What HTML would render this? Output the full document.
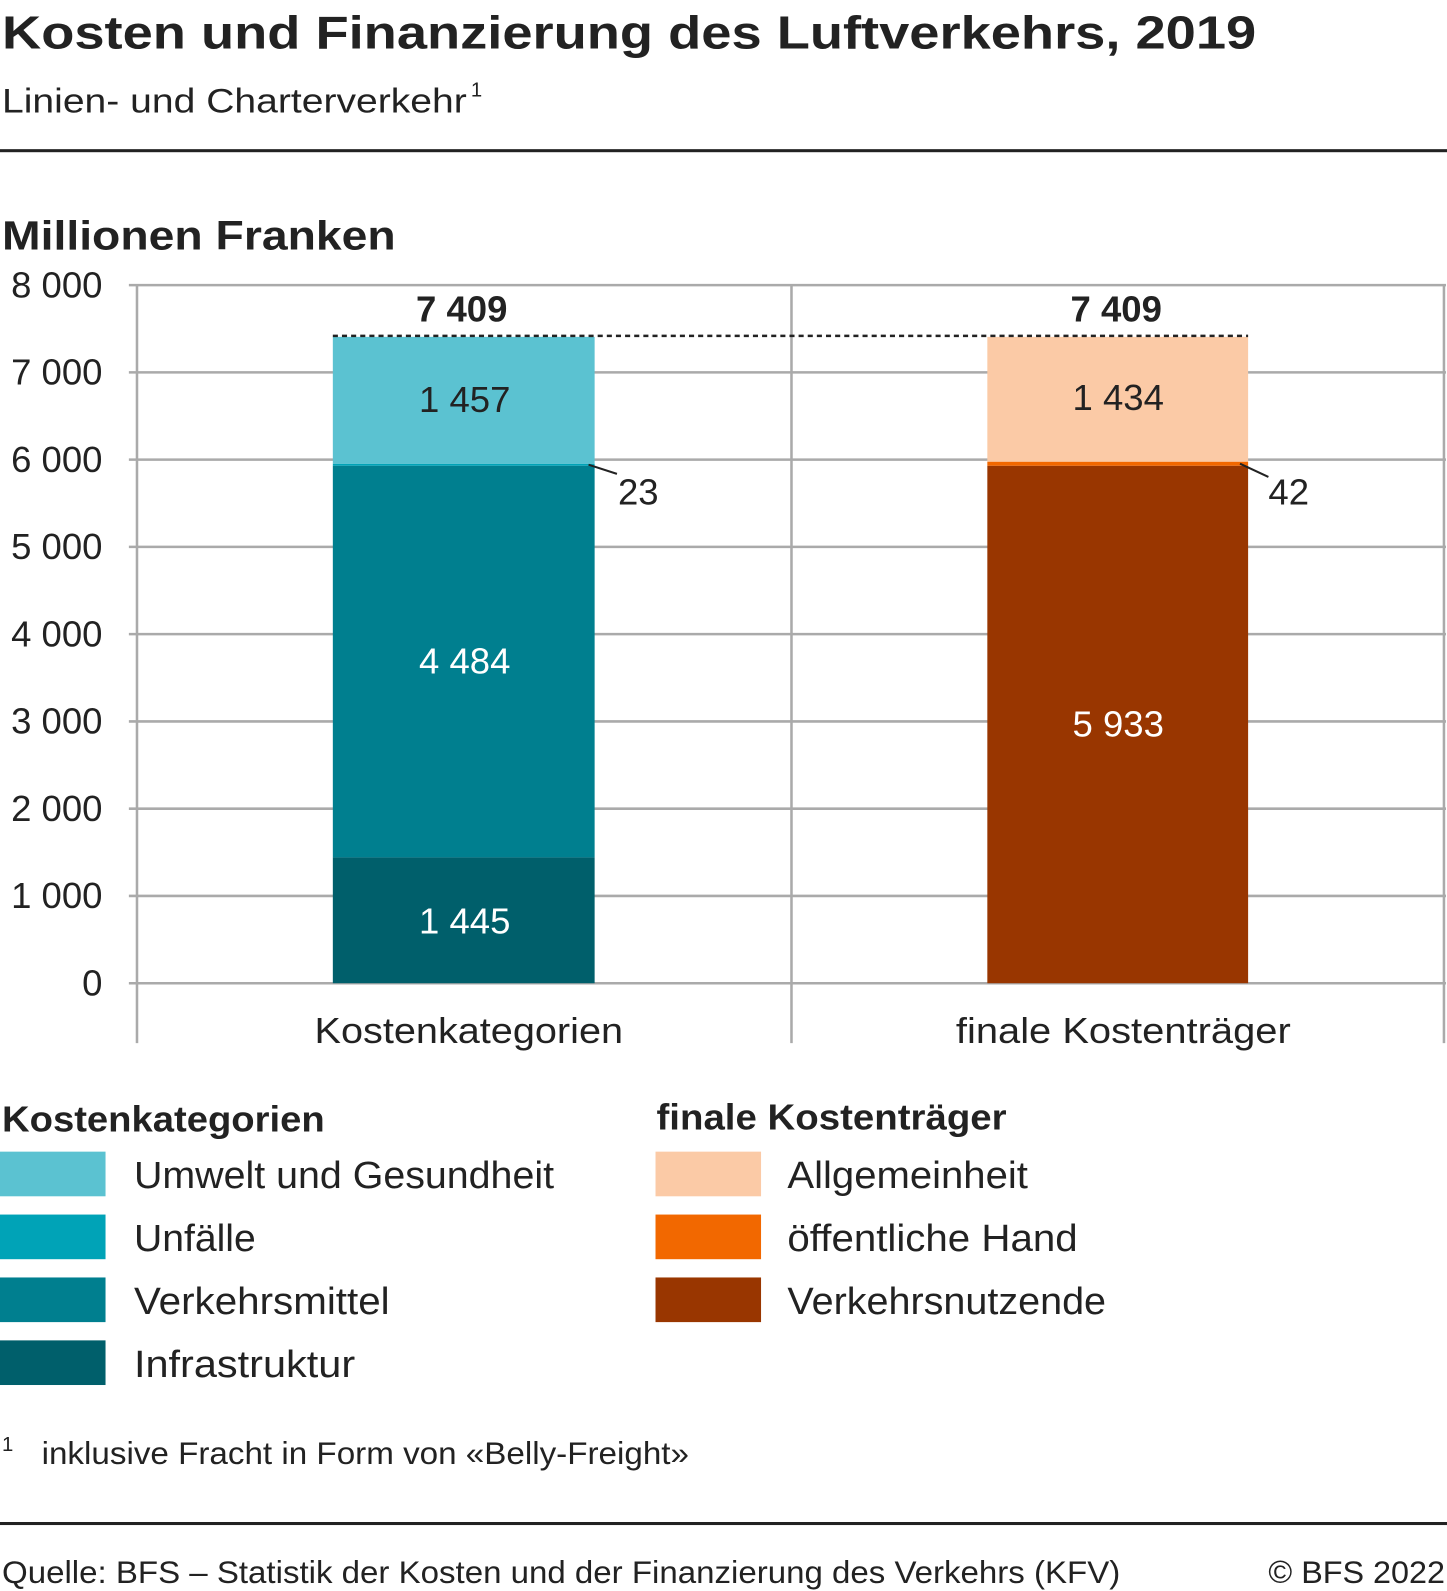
<!DOCTYPE html>
<html><head><meta charset="utf-8"><style>html,body{margin:0;padding:0;background:#fff}svg{display:block}text{font-family:"Liberation Sans",sans-serif;fill:#222}</style></head><body>
<svg width="1447" height="1591" viewBox="0 0 1426 1568" preserveAspectRatio="none" xmlns="http://www.w3.org/2000/svg">
<text x="2" y="48" font-size="46" font-weight="bold" textLength="1236" lengthAdjust="spacingAndGlyphs">Kosten und Finanzierung des Luftverkehrs, 2019</text>
<text x="2" y="111" font-size="34" textLength="458" lengthAdjust="spacingAndGlyphs">Linien- und Charterverkehr</text><text x="464" y="95" font-size="20">1</text>
<rect x="0" y="147" width="1426" height="3" fill="#222"/>
<text x="2" y="246" font-size="40" font-weight="bold" textLength="388" lengthAdjust="spacingAndGlyphs">Millionen Franken</text>
<g stroke="#aaa" stroke-width="2.5">
<line x1="127" y1="281" x2="1425" y2="281"/><line x1="127" y1="367" x2="1425" y2="367"/><line x1="127" y1="453" x2="1425" y2="453"/><line x1="127" y1="539" x2="1425" y2="539"/><line x1="127" y1="625" x2="1425" y2="625"/><line x1="127" y1="711" x2="1425" y2="711"/><line x1="127" y1="797" x2="1425" y2="797"/><line x1="127" y1="883" x2="1425" y2="883"/><line x1="127" y1="969" x2="1425" y2="969"/>
<line x1="135" y1="281" x2="135" y2="1028"/><line x1="780" y1="281" x2="780" y2="1028"/><line x1="1423" y1="281" x2="1423" y2="1028"/>
</g>
<g font-size="36" text-anchor="end">
<text x="101" y="293">8 000</text><text x="101" y="379">7 000</text><text x="101" y="465">6 000</text><text x="101" y="551">5 000</text><text x="101" y="637">4 000</text><text x="101" y="723">3 000</text><text x="101" y="809">2 000</text><text x="101" y="895">1 000</text><text x="101" y="981">0</text>
</g>
<rect x="328" y="845" width="258" height="124" fill="#005f6b"/>
<rect x="328" y="459" width="258" height="386" fill="#007f8f"/>
<rect x="328" y="457" width="258" height="2" fill="#00a3b7"/>
<rect x="328" y="332" width="258" height="125" fill="#5bc2d1"/>
<rect x="973" y="459" width="257" height="510" fill="#993600"/>
<rect x="973" y="455" width="257" height="4" fill="#f26800"/>
<rect x="973" y="332" width="257" height="123" fill="#fbcaa6"/>
<line x1="328" y1="331" x2="1230" y2="331" stroke="#222" stroke-width="2.5" stroke-dasharray="5,4"/>
<line x1="580" y1="458" x2="608" y2="467" stroke="#222" stroke-width="2"/>
<line x1="1222" y1="457" x2="1250" y2="470" stroke="#222" stroke-width="2"/>
<g font-size="36" text-anchor="middle">
<text x="455" y="317" font-weight="bold">7 409</text><text x="1100" y="317" font-weight="bold">7 409</text>
<text x="458" y="406">1 457</text><text x="458" y="664" style="fill:#fff">4 484</text><text x="458" y="920" style="fill:#fff">1 445</text>
<text x="1102" y="404">1 434</text><text x="1102" y="726" style="fill:#fff">5 933</text>
<text x="629" y="497">23</text><text x="1270" y="497">42</text>
</g>
<g font-size="36">
<text x="310" y="1028" textLength="304" lengthAdjust="spacingAndGlyphs">Kostenkategorien</text>
<text x="942" y="1028" textLength="330" lengthAdjust="spacingAndGlyphs">finale Kostenträger</text>
</g>
<text x="2" y="1115" font-size="36" font-weight="bold" textLength="318" lengthAdjust="spacingAndGlyphs">Kostenkategorien</text>
<text x="647" y="1113" font-size="36" font-weight="bold" textLength="345" lengthAdjust="spacingAndGlyphs">finale Kostenträger</text>
<rect x="0" y="1135" width="104" height="44" fill="#5bc2d1"/><rect x="0" y="1197" width="104" height="44" fill="#00a3b7"/><rect x="0" y="1259" width="104" height="44" fill="#007f8f"/><rect x="0" y="1321" width="104" height="44" fill="#005f6b"/>
<rect x="646" y="1135" width="104" height="44" fill="#fbcaa6"/><rect x="646" y="1197" width="104" height="44" fill="#f26800"/><rect x="646" y="1259" width="104" height="44" fill="#993600"/>
<g font-size="37">
<text x="132" y="1171" textLength="414" lengthAdjust="spacingAndGlyphs">Umwelt und Gesundheit</text>
<text x="132" y="1233" textLength="120" lengthAdjust="spacingAndGlyphs">Unfälle</text>
<text x="132" y="1295" textLength="252" lengthAdjust="spacingAndGlyphs">Verkehrsmittel</text>
<text x="132" y="1357" textLength="218" lengthAdjust="spacingAndGlyphs">Infrastruktur</text>
<text x="776" y="1171" textLength="237" lengthAdjust="spacingAndGlyphs">Allgemeinheit</text>
<text x="776" y="1233" textLength="286" lengthAdjust="spacingAndGlyphs">öffentliche Hand</text>
<text x="776" y="1295" textLength="314" lengthAdjust="spacingAndGlyphs">Verkehrsnutzende</text>
</g>
<text x="2" y="1430" font-size="20">1</text>
<text x="41" y="1443" font-size="31" textLength="638" lengthAdjust="spacingAndGlyphs">inklusive Fracht in Form von «Belly-Freight»</text>
<rect x="0" y="1500" width="1426" height="3" fill="#222"/>
<text x="2" y="1560" font-size="31" textLength="1102" lengthAdjust="spacingAndGlyphs">Quelle: BFS – Statistik der Kosten und der Finanzierung des Verkehrs (KFV)</text>
<text x="1250" y="1560" font-size="31" textLength="174" lengthAdjust="spacingAndGlyphs">© BFS 2022</text>
</svg>
</body></html>
